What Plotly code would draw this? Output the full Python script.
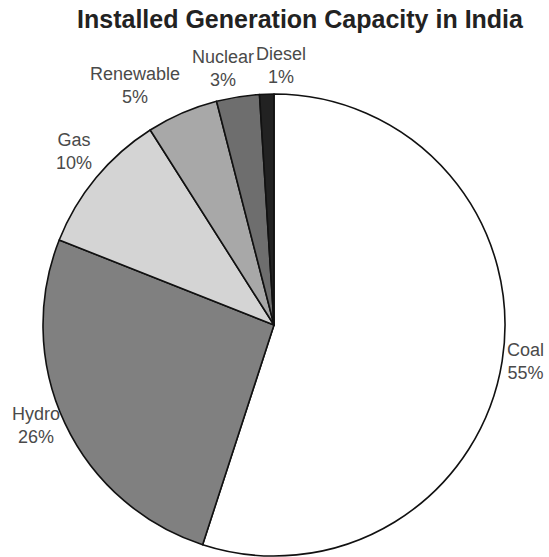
import math
import plotly.graph_objects as go

labels = ["Coal", "Hydro", "Gas", "Renewable", "Nuclear", "Diesel"]
values = [55, 26, 10, 5, 3, 1]
colors = ["#ffffff", "#808080", "#d4d4d4", "#a8a8a8", "#6e6e6e", "#222222"]

W, H = 549, 557
cx, cy, r = 274, 325, 231          # pie centre and radius in pixels
LABEL_SIZE = 18
LABEL_FONT = "Liberation Sans, Arial, sans-serif"
GAP = 5

fig = go.Figure(go.Pie(
    labels=labels,
    values=values,
    sort=False,
    direction="clockwise",
    rotation=0,
    marker=dict(colors=colors, line=dict(color="#111111", width=1.6)),
    textinfo="none",
    showlegend=False,
    domain=dict(x=[(cx - r) / W, (cx + r) / W], y=[(H - cy - r) / H, (H - cy + r) / H]),
    hoverinfo="skip",
))

# Arial-like advance widths (em) for estimating label widths
adv = {c: 0.556 for c in "abdeghnopqu0123456789"}
adv.update({"c": 0.5, "s": 0.5, "y": 0.5, "w": 0.722, "l": 0.222, "i": 0.222, "r": 0.333,
            "C": 0.722, "D": 0.722, "G": 0.778, "H": 0.722, "N": 0.722, "R": 0.722, "%": 0.889})

def text_w(s):
    return sum(adv.get(ch, 0.556) for ch in s) * LABEL_SIZE

total = sum(values)
boxes = []
cum = 0.0
for lab, v in zip(labels, values):
    mid = (cum + v / 2) / total * 2 * math.pi
    cum += v
    sx, sy_up = math.sin(mid), math.cos(mid)
    pct = f"{round(v / total * 100)}%"
    w = max(text_w(lab), text_w(pct))
    h = 2 * LABEL_SIZE * 1.3
    px = cx + sx * (r + GAP)
    py = cy - sy_up * (r + GAP)
    if sx > 0.35:
        left = px
    elif sx < -0.35:
        left = px - w
    else:
        left = px - w / 2
    if sy_up > 0.5:
        top = py - h
    elif sy_up < -0.5:
        top = py
    else:
        top = py - h / 2
    boxes.append(dict(text=f"{lab}<br>{pct}", left=left, top=top, w=w, h=h))

# simple horizontal de-overlap of neighbouring labels
for _ in range(20):
    moved = False
    for i in range(len(boxes)):
        for j in range(i + 1, len(boxes)):
            a, b = boxes[i], boxes[j]
            ox = min(a["left"] + a["w"], b["left"] + b["w"]) - max(a["left"], b["left"])
            oy = min(a["top"] + a["h"], b["top"] + b["h"]) - max(a["top"], b["top"])
            if ox > 0 and oy > 0:
                lft, rgt = (a, b) if a["left"] + a["w"] / 2 <= b["left"] + b["w"] / 2 else (b, a)
                lft["left"] -= ox / 2 + 1
                rgt["left"] += ox / 2 + 1
                moved = True
    if not moved:
        break

for bx in boxes:
    fig.add_annotation(
        text=bx["text"],
        xref="paper", yref="paper",
        x=(bx["left"] + bx["w"] / 2) / W,
        y=1 - (bx["top"] + bx["h"] / 2) / H,
        xanchor="center", yanchor="middle",
        showarrow=False, align="center", borderpad=0,
        font=dict(family=LABEL_FONT, size=LABEL_SIZE, color="#4a4a4a"),
    )

fig.update_layout(
    width=W, height=H,
    margin=dict(l=0, r=0, t=0, b=0),
    paper_bgcolor="white",
    plot_bgcolor="white",
    title=dict(
        text="<b>Installed Generation Capacity in India</b>",
        x=300 / W, xanchor="center",
        y=1 - 19 / H, yanchor="middle",
        font=dict(family="Liberation Sans, Arial, sans-serif", size=25, color="#222222"),
    ),
)

fig.write_html("out.html")
